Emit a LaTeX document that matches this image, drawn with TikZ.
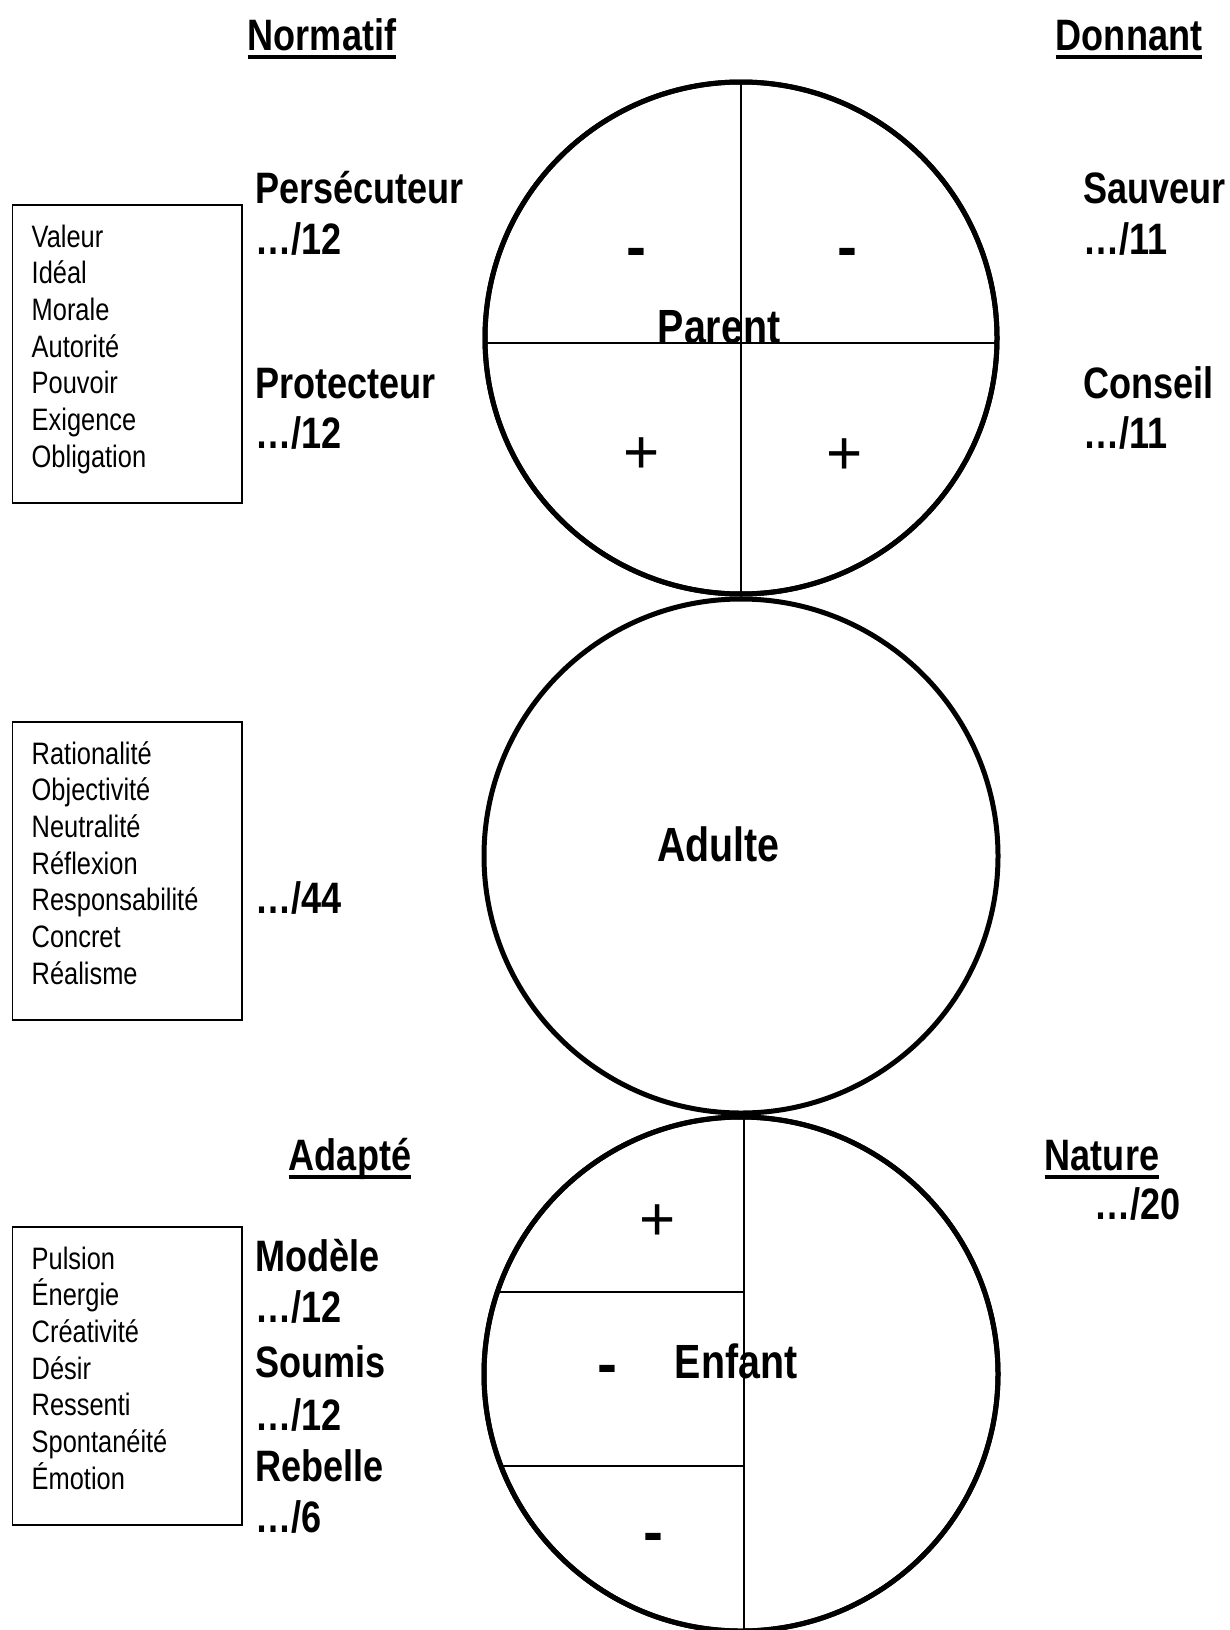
\documentclass[tikz,border=0pt]{standalone}
\usepackage{fontspec}
\setmainfont{Liberation Sans}[FakeStretch=0.82]
\newfontfamily\signfont{Liberation Sans}
\usetikzlibrary{calc}
\begin{document}
\begin{tikzpicture}[x=1pt,y=-1pt,
  lbl/.style={anchor=base west, inner sep=0, font=\fontsize{44}{44}\selectfont\bfseries},
  head/.style={anchor=base, inner sep=0, font=\fontsize{44}{44}\selectfont\bfseries},
  ego/.style={anchor=base, inner sep=0, font=\fontsize{48}{48}\selectfont\bfseries},
  item/.style={anchor=base west, inner sep=0, font=\fontsize{31}{31}\selectfont},
  plus/.style={inner sep=0, font=\signfont\fontsize{62}{62}\selectfont},
  minus/.style={inner sep=0, font=\signfont\fontsize{60}{60}\selectfont\bfseries},
  state/.style={circle, draw, line width=5pt, inner sep=0, outer sep=0},
  itembox/.style={draw, line width=1.4pt, anchor=north west, minimum width=229.5pt,
    minimum height=298pt, inner sep=0, outer sep=0},
  divider/.style={line width=1.5pt},
  uline/.style={line width=3.5pt}
]
\useasboundingbox[fill=white] (0,0) rectangle (1229,1630);

% --- ego-state circles ---
\node[state, minimum size=512pt] (parent) at (741,338) {};
\node[state, minimum size=514pt] (adulte) at (741,856) {};
\node[state, minimum size=514pt] (enfant) at (741,1374) {};

% Parent: four quadrants
\draw[divider] (parent.north) -- (parent.south);
\draw[divider] ($(parent.west)+(0,5)$) -- ($(parent.east)+(0,5)$);

% Enfant: right half whole, left half in three parts
\coordinate (etop) at ($(enfant.north)+(3,0)$);
\coordinate (ebot) at ($(enfant.south)+(3,0)$);
\coordinate (el1) at ($(enfant.center)+(-243.5,-82)$);
\coordinate (el2) at ($(enfant.center)+(-239.5,92)$);
\draw[divider] (etop) -- (ebot);
\draw[divider] (el1) -- (el1 -| etop);
\draw[divider] (el2) -- (el2 -| etop);

% circle outlines drawn again above the dividers
\draw[line width=5pt] (parent.center) circle[radius=256pt];
\draw[line width=5pt] (enfant.center) circle[radius=257pt];

% --- circle labels ---
\node[ego] (tparent) at (719,343) {Parent};
\node[ego] (tadulte) at (718.5,861) {Adulte};
\node[ego] (tenfant) at (736,1378) {Enfant};

\node[minus] (pm1) at (636,258) {-};
\node[minus] (pm2) at (847,258) {-};
\node[plus]  (pp1) at (642,455.5) {+};
\node[plus]  (pp2) at (845,456.5) {+};

\node[plus]  (ep1) at (658,1222.5) {+};
\node[minus] (em1) at (607,1375) {-};
\node[minus] (em2) at (653,1543) {-};

% --- headings ---
\node[head] (normatif) at (322,50) {Normatif};
\draw[uline] ($(normatif.base west)+(0,7)$) -- ($(normatif.base east)+(0,7)$);
\node[head] (donnant) at (1129,50) {Donnant};
\draw[uline] ($(donnant.base west)+(0,7)$) -- ($(donnant.base east)+(0,7)$);
\node[head] (adapte) at (350,1170) {Adapté};
\draw[uline] ($(adapte.base west)+(0,7)$) -- ($(adapte.base east)+(0,7)$);
\node[head] (nature) at (1102,1170) {Nature};
\draw[uline] ($(nature.base west)+(0,7)$) -- ($(nature.base east)+(0,7)$);

% --- scores ---
\node[lbl] (persec)  at (255,203) {Persécuteur};
\node[lbl] (spersec) at (255,254) {…/12};
\node[lbl] (protec)  at (255,398) {Protecteur};
\node[lbl] (sprotec) at (255,448) {…/12};
\node[lbl] (sauveur) at (1083,203) {Sauveur};
\node[lbl] (ssauv)   at (1083,254) {…/11};
\node[lbl] (conseil) at (1083,398) {Conseil};
\node[lbl] (sconsl)  at (1083,448) {…/11};
\node[lbl] (sadulte) at (255,913) {…/44};
\node[lbl] (snature) at (1094,1219) {…/20};
\node[lbl] (modele)  at (255,1271) {Modèle};
\node[lbl] (smodele) at (255,1322) {…/12};
\node[lbl] (soumis)  at (255,1377) {Soumis};
\node[lbl] (ssoumis) at (255,1430) {…/12};
\node[lbl] (rebelle) at (255,1481) {Rebelle};
\node[lbl] (srebel)  at (255,1532) {…/6};

% --- keyword boxes ---
\node[itembox] (box1) at (12.5,205) {};
\node[itembox] (box2) at (12.5,722) {};
\node[itembox] (box3) at (12.5,1227) {};

\foreach \w [count=\i] in {Valeur,Idéal,Morale,Autorité,Pouvoir,Exigence,Obligation}
  \node[item] (pw\i) at (31.5,{247+36.7*(\i-1)}) {\w};
\foreach \w [count=\i] in {Rationalité,Objectivité,Neutralité,Réflexion,Responsabilité,Concret,Réalisme}
  \node[item] (aw\i) at (31.5,{764+36.7*(\i-1)}) {\w};
\foreach \w [count=\i] in {Pulsion,Énergie,Créativité,Désir,Ressenti,Spontanéité,Émotion}
  \node[item] (ew\i) at (31.5,{1269+36.7*(\i-1)}) {\w};
\end{tikzpicture}
\end{document}
